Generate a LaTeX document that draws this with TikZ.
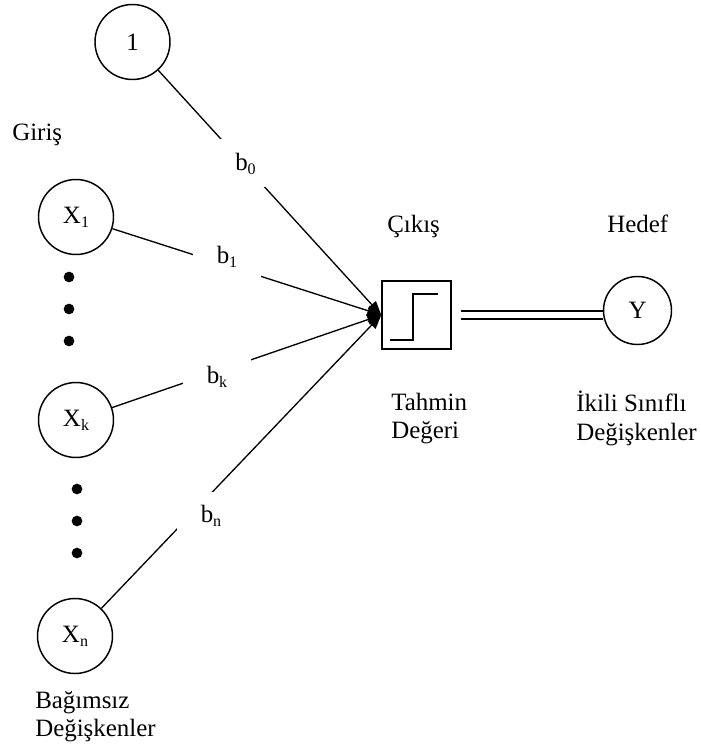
\documentclass[tikz,border=0pt]{standalone}
\usepackage{fontspec}
\setmainfont{Liberation Serif}
\usetikzlibrary{arrows.meta}
% lowered index used for X_i and b_i
\newcommand{\lowidx}[1]{\raisebox{-0.35ex}{\fontsize{12pt}{12pt}\selectfont #1}}
\begin{document}
\begin{tikzpicture}[x=0.75pt,y=-0.75pt,
  font=\fontsize{18.7pt}{21pt}\selectfont,
  unit/.style={draw, circle, line width=1.1pt, minimum size=56.25pt, inner sep=0pt},
  conn/.style={line width=1pt},
  weight/.style={-{Triangle[length=10.5pt,width=8pt]}, line width=1pt},
  wlabel/.style={fill=white, inner sep=0pt, minimum width=51pt, minimum height=36pt},
  txt/.style={inner sep=0pt, anchor=base west}]
\useasboundingbox (0,0) rectangle (700,745);

% input units
\node[unit] (one) at (132.5,42) {1};
\node[unit] (x1) at (76,217) {X\lowidx{1}};
\node[unit] (xk) at (76,420) {X\lowidx{k}};
\node[unit] (xn) at (75,636) {X\lowidx{n}};

% ellipsis dots
\foreach \yy in {277,309,341} \fill (69,\yy) circle[radius=4pt];
\foreach \yy in {489,521,553} \fill (77,\yy) circle[radius=4pt];

% output unit with step function
\node[draw, line width=1.1pt, minimum width=51.75pt, minimum height=51pt, inner sep=0pt] (out) at (416.5,315) {};
\draw[conn] ([shift={(-26.5,25)}]out.center) -- ++(23,0) -- ++(0,-46) -- ++(25,0);

% target unit
\node[unit, minimum size=51pt] (y) at (637.5,310.5) {Y};

% weighted connections
\draw[weight] (one) -- (out.west);
\draw[weight] (x1) -- (out.west);
\draw[weight] (xk) -- (out.west);
\draw[weight] (xn) -- (out.west);

% weight labels
\node[wlabel] (b0) at (245.5,163.5) {b\lowidx{0}};
\node[wlabel] (b1) at (227,257) {b\lowidx{1}};
\node[wlabel] (bk) at (217,377) {b\lowidx{k}};
\node[wlabel] (bn) at (211,516) {b\lowidx{n}};

% double link to target
\coordinate (d1) at ([shift={(9,-4)}]out.east);
\coordinate (d2) at ([shift={(9,4)}]out.east);
\draw[conn] (d1) -- (d1 -| y.west);
\draw[conn] (d2) -- (d2 -| y.west);

% captions
\node[txt] (giris) at (12,141) {Giriş};
\node[txt] (cikis) at (387,233) {Çıkış};
\node[txt] (hedef) at (607,233) {Hedef};
\node[txt] (tahmin) at (391,410) {Tahmin};
\node[txt] (degeri) at (391,438) {Değeri};
\node[txt] (ikili) at (576,411) {İkili Sınıflı};
\node[txt] (degisken2) at (576,440) {Değişkenler};
\node[txt] (bagimsiz) at (35,708) {Bağımsız};
\node[txt] (degisken1) at (35,736) {Değişkenler};
\end{tikzpicture}
\end{document}
